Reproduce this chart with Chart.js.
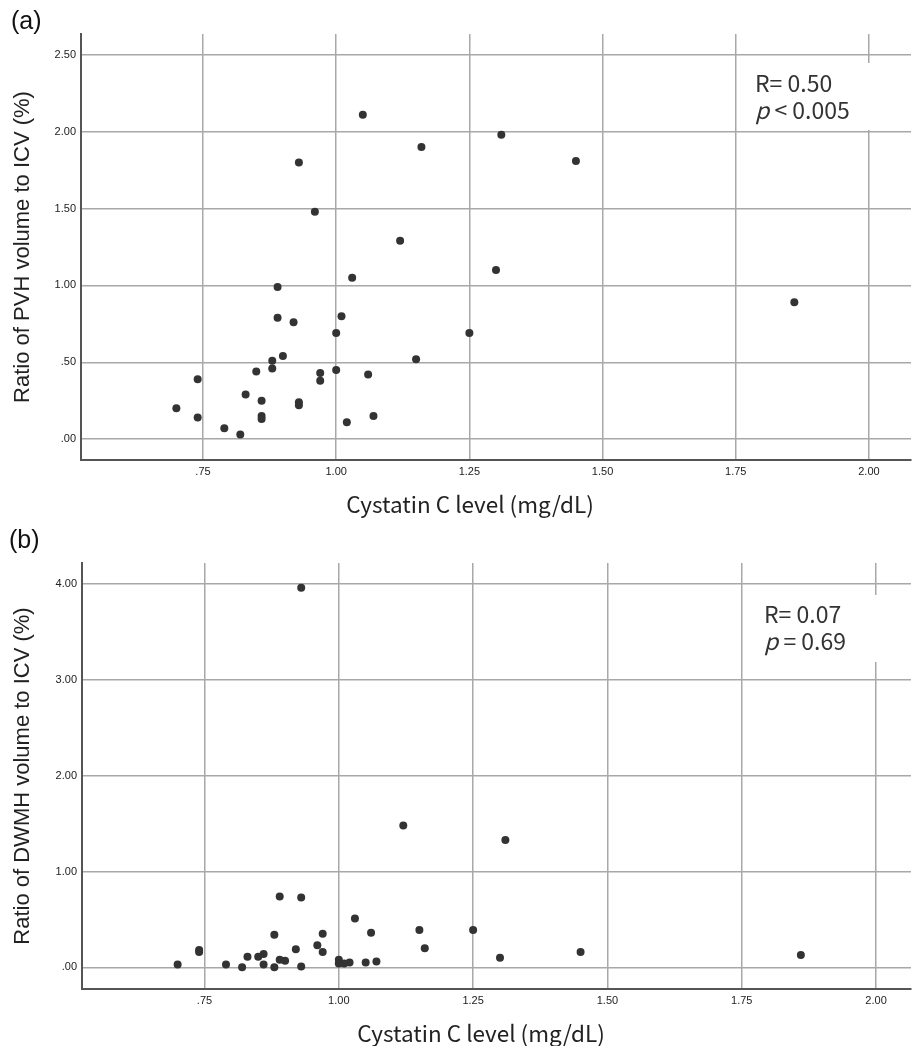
<!DOCTYPE html>
<html>
<head>
<meta charset="utf-8">
<script src="https://cdn.jsdelivr.net/npm/chart.js@4.4.1/dist/chart.umd.min.js"></script>
<style>
  body { margin: 0; background: #fff; width: 915px; height: 1046px; position: relative; overflow: hidden; font-family: "Liberation Sans", Arial, sans-serif; }
  canvas { position: absolute; left: 0; }
  .tag { position: absolute; font-size: 25px; color: #111; }
</style>
</head>
<body>
<canvas id="chartA" width="915" height="520" style="top:0"></canvas>
<canvas id="chartB" width="915" height="526" style="top:520px"></canvas>
<div class="tag" style="left:11px; top:6px">(a)</div>
<div class="tag" style="left:9px; top:525px">(b)</div>
<script>
// panel (a): cystatin C vs PVH ratio
let cystatinA = [0.70, 0.74, 0.74, 0.79, 0.82, 0.83, 0.85, 0.86, 0.86, 0.86, 0.88, 0.88, 0.89, 0.89, 0.90, 0.92, 0.93, 0.93, 0.93, 0.96,
                 0.97, 0.97, 1.00, 1.00, 1.01, 1.02, 1.03, 1.05, 1.06, 1.07, 1.12, 1.15, 1.16, 1.25, 1.30, 1.31, 1.45, 1.86];
let pvhRatio  = [0.20, 0.39, 0.14, 0.07, 0.03, 0.29, 0.44, 0.25, 0.15, 0.13, 0.51, 0.46, 0.99, 0.79, 0.54, 0.76, 1.80, 0.24, 0.22, 1.48,
                 0.43, 0.38, 0.69, 0.45, 0.80, 0.11, 1.05, 2.11, 0.42, 0.15, 1.29, 0.52, 1.90, 0.69, 1.10, 1.98, 1.81, 0.89];

// panel (b): cystatin C vs DWMH ratio
let cystatinB = [0.70, 0.74, 0.74, 0.79, 0.82, 0.83, 0.85, 0.86, 0.86, 0.88, 0.88, 0.89, 0.89, 0.90, 0.92, 0.93, 0.93, 0.93, 0.96,
                 0.97, 0.97, 1.00, 1.00, 1.01, 1.02, 1.03, 1.05, 1.06, 1.07, 1.12, 1.15, 1.16, 1.25, 1.30, 1.31, 1.45, 1.86];
let dwmhRatio = [0.03, 0.18, 0.16, 0.03, 0.00, 0.11, 0.11, 0.14, 0.03, 0.34, 0.00, 0.74, 0.08, 0.07, 0.19, 0.73, 0.01, 3.96, 0.23,
                 0.35, 0.16, 0.08, 0.04, 0.04, 0.05, 0.51, 0.05, 0.36, 0.06, 1.48, 0.39, 0.20, 0.39, 0.10, 1.33, 0.16, 0.13];

let xTicks = [0.75, 1.00, 1.25, 1.50, 1.75, 2.00];
let yTicksA = [0, 0.5, 1.0, 1.5, 2.0, 2.5];
let yTicksB = [0, 1, 2, 3, 4];

// SPSS style labels: .75, .00
let spssLabel = v => v.toFixed(2).replace(/^0\./, '.');
let tickFont = { family: '"Liberation Sans", Arial, sans-serif', size: 11 };
let gridStyle = { color: '#a8a8a8', lineWidth: 1.5, drawTicks: false };
let borderStyle = { color: '#555', width: 2 };
let jpFont = '"Noto Sans CJK JP", "Noto Sans", sans-serif';

// white box with R / p values, drawn over the grid; x axis caption below
let statBox = {
    id: 'statBox',
    beforeDatasetsDraw(chart, args, o) {
        let ctx = chart.ctx;
        ctx.save();
        ctx.fillStyle = '#fff';
        ctx.fillRect(o.x, o.y, o.w, o.h);
        ctx.fillStyle = '#333';
        ctx.textBaseline = 'alphabetic';
        ctx.font = '23px ' + jpFont;
        ctx.fillText(o.line1, o.tx, o.b1);
        ctx.font = 'italic 23px ' + jpFont;
        ctx.fillText('p', o.tx, o.b2);
        let pw = ctx.measureText('p').width;
        ctx.font = '23px ' + jpFont;
        ctx.fillText(o.line2, o.tx + pw, o.b2);
        ctx.restore();
    },
    afterDraw(chart, args, o) {
        let ctx = chart.ctx;
        ctx.save();
        ctx.fillStyle = '#222';
        ctx.font = '22.5px ' + jpFont;
        ctx.textAlign = 'center';
        ctx.textBaseline = 'middle';
        ctx.fillText(o.xTitle, o.xtX, o.xtY);
        ctx.restore();
    }
};

let myChart1 = document.getElementById('chartA').getContext('2d');

let chart1 = new Chart(myChart1, {
    type: 'scatter',
    data: {
        datasets: [{
            data: cystatinA.map((x, i) => ({ x: x, y: pvhRatio[i] })),
            backgroundColor: '#333',
            borderWidth: 0,
            pointRadius: 4
        }]
    },
    options: {
        responsive: false,
        animation: false,
        layout: { padding: { top: 34, right: 3, left: 0, bottom: 0 } },
        plugins: {
            legend: { display: false },
            tooltip: { enabled: false },
            statBox: { x: 746, y: 63, w: 166, h: 67, tx: 755, b1: 92, b2: 119, line1: 'R= 0.50', line2: ' < 0.005',
                       xTitle: 'Cystatin C level (mg/dL)', xtX: 470, xtY: 504 }
        },
        scales: {
            x: {
                type: 'linear', min: 0.521, max: 2.079,
                afterBuildTicks: s => { s.ticks = xTicks.map(v => ({ value: v })); },
                afterFit: s => { s.height = 60; },
                ticks: { callback: spssLabel, font: tickFont, color: '#222', padding: 5, maxRotation: 0, autoSkip: false },
                grid: gridStyle,
                border: borderStyle
            },
            y: {
                min: -0.136, max: 2.636,
                afterBuildTicks: s => { s.ticks = yTicksA.map(v => ({ value: v })); },
                afterFit: s => { s.width = 81; },
                ticks: { callback: spssLabel, font: tickFont, color: '#222', padding: 5 },
                grid: gridStyle,
                border: borderStyle,
                title: { display: true, text: 'Ratio of PVH volume to ICV (%)', font: { size: 22 }, color: '#222', padding: { top: 10, bottom: 0 } }
            }
        }
    },
    plugins: [statBox]
});

let myChart2 = document.getElementById('chartB').getContext('2d');

let chart2 = new Chart(myChart2, {
    type: 'scatter',
    data: {
        datasets: [{
            data: cystatinB.map((x, i) => ({ x: x, y: dwmhRatio[i] })),
            backgroundColor: '#333',
            borderWidth: 0,
            pointRadius: 4
        }]
    },
    options: {
        responsive: false,
        animation: false,
        layout: { padding: { top: 43, right: 3, left: 0, bottom: 0 } },
        plugins: {
            legend: { display: false },
            tooltip: { enabled: false },
            statBox: { x: 755, y: 75, w: 157, h: 67, tx: 764, b1: 103, b2: 130, line1: 'R= 0.07', line2: ' = 0.69',
                       xTitle: 'Cystatin C level (mg/dL)', xtX: 481, xtY: 513 }
        },
        scales: {
            x: {
                type: 'linear', min: 0.522, max: 2.065,
                afterBuildTicks: s => { s.ticks = xTicks.map(v => ({ value: v })); },
                afterFit: s => { s.height = 57; },
                ticks: { callback: spssLabel, font: tickFont, color: '#222', padding: 5, maxRotation: 0, autoSkip: false },
                grid: gridStyle,
                border: borderStyle
            },
            y: {
                min: -0.226, max: 4.219,
                afterBuildTicks: s => { s.ticks = yTicksB.map(v => ({ value: v })); },
                afterFit: s => { s.width = 82; },
                ticks: { callback: spssLabel, font: tickFont, color: '#222', padding: 5 },
                grid: gridStyle,
                border: borderStyle,
                title: { display: true, text: 'Ratio of DWMH volume to ICV (%)', font: { size: 22 }, color: '#222', padding: { top: 10, bottom: 0 } }
            }
        }
    },
    plugins: [statBox]
});
</script>
</body>
</html>
